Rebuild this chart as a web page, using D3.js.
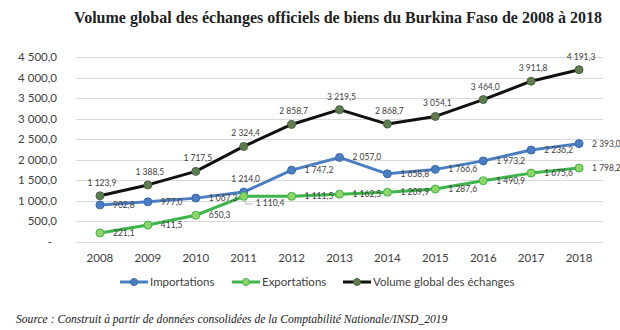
<!DOCTYPE html>
<html>
<head>
<meta charset="utf-8">
<script src="https://cdn.jsdelivr.net/npm/d3@7"></script>
<style>
  body { margin: 0; background: #fff; }
  svg { display: block; }
</style>
</head>
<body>
<div id="chart"></div>
<script>
// Burkina Faso - official trade in goods, millions (2008-2018)
var years = [2008, 2009, 2010, 2011, 2012, 2013, 2014, 2015, 2016, 2017, 2018];
var importations = [902.8, 977.0, 1067.3, 1214.0, 1747.2, 2057.0, 1658.8, 1766.6, 1973.2, 2236.2, 2393.0];
var exportations = [221.1, 411.5, 650.3, 1110.4, 1111.5, 1162.5, 1209.9, 1287.6, 1490.9, 1675.6, 1798.2];
var volumeGlobal = [1123.9, 1388.5, 1717.5, 2324.4, 2858.7, 3219.5, 2868.7, 3054.1, 3464.0, 3911.8, 4191.3];
var yTicks = [0, 500, 1000, 1500, 2000, 2500, 3000, 3500, 4000, 4500];
var seriesNames = ["Importations", "Exportations", "Volume global des échanges"];

var w = 620, h = 330;
var svg = d3.select("#chart").append("svg").attr("width", w).attr("height", h);

var x = d3.scaleBand().domain(years).range([76, 603]);
var y = d3.scaleLinear().domain([0, 4500]).range([242, 57]);

// french number format : "4 500,0"
var fr = d3.formatLocale({decimal: ",", thousands: " ", grouping: [3], currency: ["", ""]});
var fmt = fr.format(",.1f");

var labelFont = "Lato, 'Open Sans', sans-serif";

svg.append("text")
    .attr("x", 338).attr("y", 23)
    .attr("text-anchor", "middle")
    .style("font-family", "'Liberation Serif', 'Times New Roman', serif")
    .style("font-weight", "bold")
    .style("font-size", "16px")
    .attr("fill", "#222")
    .text("Volume global des échanges officiels de biens du Burkina Faso de 2008 à 2018");

// grid + y labels
var grid = svg.append("g");
grid.selectAll("line").data(yTicks).enter().append("line")
    .attr("x1", 76).attr("x2", 603)
    .attr("y1", function(d){ return Math.round(y(d)) + 0.5; })
    .attr("y2", function(d){ return Math.round(y(d)) + 0.5; })
    .attr("stroke", "#d9d9d9").attr("stroke-width", 1);

grid.selectAll("text").data(yTicks).enter().append("text")
    .attr("x", function(d){ return d === 0 ? 52 : 57; })
    .attr("y", function(d){ return y(d) + 4; })
    .attr("text-anchor", "end")
    .style("font-family", labelFont).style("font-size", "11.5px")
    .attr("fill", "#404040")
    .text(function(d){ return d === 0 ? "-" : fmt(d); });

// x labels
svg.append("g").selectAll("text").data(years).enter().append("text")
    .attr("x", function(d){ return x(d) + x.bandwidth() / 2; })
    .attr("y", 262)
    .attr("text-anchor", "middle")
    .style("font-family", labelFont).style("font-size", "11.5px")
    .attr("fill", "#404040")
    .text(function(d){ return d; });

var series = [
  {name: seriesNames[0], values: importations, line: "#4a7ec4", fill: "#4a7ec4", edge: "#3b6aa8"},
  {name: seriesNames[1], values: exportations, line: "#3cb54a", fill: "#8fd466", edge: "#3cb54a"},
  {name: seriesNames[2], values: volumeGlobal, line: "#111111", fill: "#5e7c4c", edge: "#4a6340"}
];

var cx = function(i){ return x(years[i]) + x.bandwidth() / 2; };
var line = d3.line()
    .x(function(d, i){ return cx(i); })
    .y(function(d){ return y(d); });

// lines first, markers on top
series.forEach(function(s){
  svg.append("path")
      .datum(s.values)
      .attr("d", line)
      .attr("fill", "none")
      .attr("stroke", s.line)
      .attr("stroke-width", 3)
      .attr("stroke-linejoin", "round");
});

series.forEach(function(s){
  svg.append("g").selectAll("circle").data(s.values).enter().append("circle")
      .attr("cx", function(d, i){ return cx(i); })
      .attr("cy", function(d){ return y(d); })
      .attr("r", 4)
      .attr("fill", s.fill)
      .attr("stroke", s.edge)
      .attr("stroke-width", 1);
});

// data labels
var labels = svg.append("g")
    .style("font-family", labelFont).style("font-size", "8.5px")
    .attr("fill", "#404040");

function addLabels(values, pos) {
  values.forEach(function(v, i){
    var p = pos(i), px = cx(i), py = y(v);
    var t = labels.append("text").text(fmt(v));
    if (p === "above") {
      t.attr("x", px + 2).attr("y", py - 10).attr("text-anchor", "middle");
    } else if (p === "below") {
      t.attr("x", px + 12).attr("y", py + 10).attr("text-anchor", "start");
      labels.append("path")
          .attr("d", "M" + (px + 2) + "," + (py + 4) + "V" + (py + 7.5) + "H" + (px + 9))
          .attr("fill", "none").attr("stroke", "#a6a6a6").attr("stroke-width", 0.8);
    } else {
      t.attr("x", px + 13).attr("y", py + 3).attr("text-anchor", "start");
    }
  });
}

addLabels(volumeGlobal, function(){ return "above"; });
addLabels(importations, function(i){ return years[i] === 2011 ? "above" : "right"; });
addLabels(exportations, function(i){ return years[i] === 2011 ? "below" : "right"; });

// legend
var legendX = [120, 232, 343];
var legend = svg.append("g");
series.forEach(function(s, i){
  var g = legend.append("g").attr("transform", "translate(" + legendX[i] + ",282)");
  g.append("line").attr("x1", 0).attr("x2", 28).attr("y1", 0).attr("y2", 0)
      .attr("stroke", s.line).attr("stroke-width", 3);
  g.append("circle").attr("cx", 14).attr("cy", 0).attr("r", 3.5)
      .attr("fill", s.fill).attr("stroke", s.edge).attr("stroke-width", 1);
  g.append("text").attr("x", 30).attr("y", 4)
      .style("font-family", labelFont).style("font-size", "11.5px")
      .attr("fill", "#404040")
      .text(s.name);
});

svg.append("text")
    .attr("x", 16).attr("y", 323)
    .style("font-family", "'Liberation Serif', 'Times New Roman', serif")
    .style("font-style", "italic")
    .style("font-size", "11.6px")
    .attr("fill", "#222")
    .text("Source : Construit à partir de données consolidées de la Comptabilité Nationale/INSD_2019");
</script>
</body>
</html>
